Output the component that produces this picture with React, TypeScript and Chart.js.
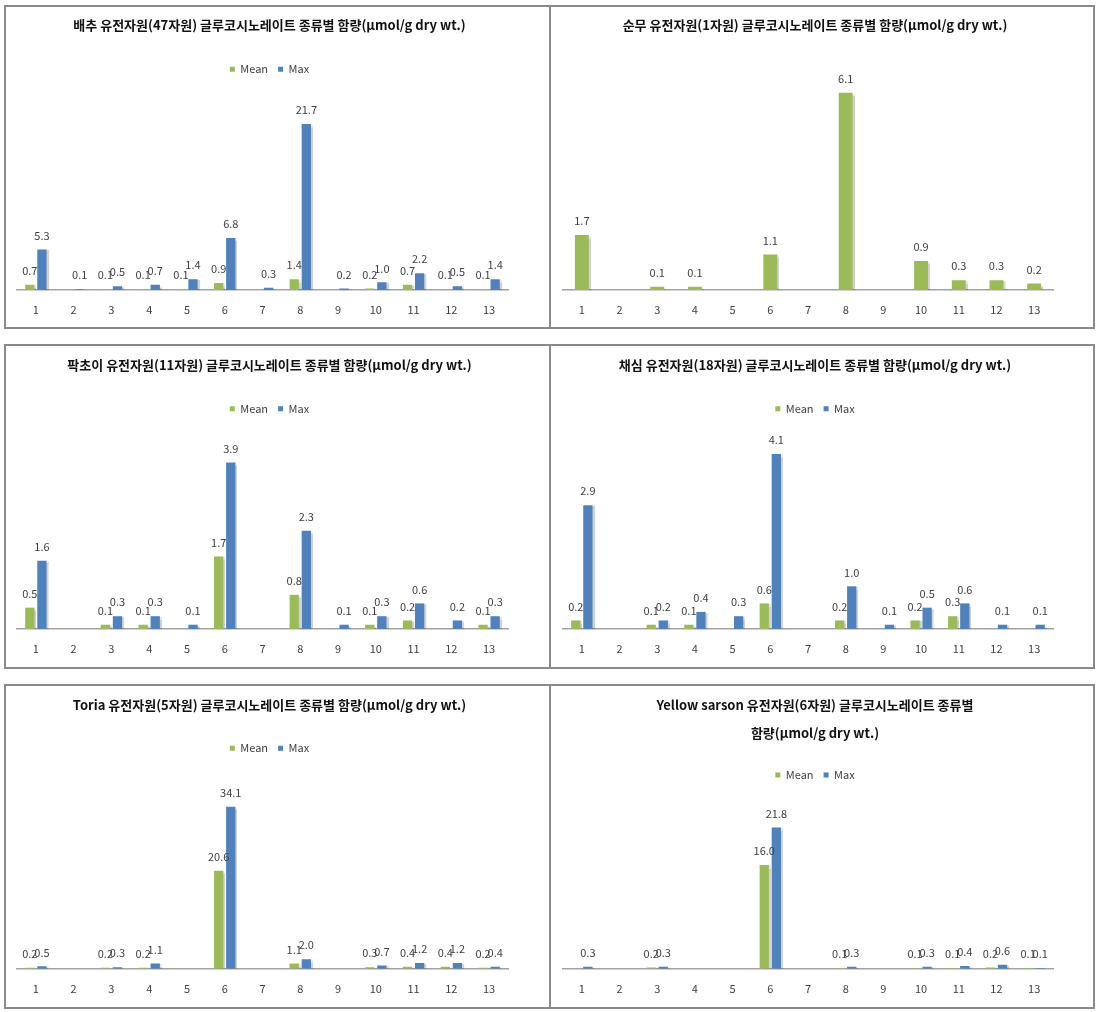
import React, { useEffect, useRef } from "react";
import { Chart, registerables } from "chart.js";

Chart.register(...registerables);

const FONT = '"Noto Sans CJK KR", "Noto Sans", sans-serif';

// ---------- data ----------
const categories = ["1", "2", "3", "4", "5", "6", "7", "8", "9", "10", "11", "12", "13"];

const cabbageMean = [0.7, null, 0.1, 0.1, 0.1, 0.9, null, 1.4, null, 0.2, 0.7, 0.1, 0.1];
const cabbageMax = [5.3, 0.1, 0.5, 0.7, 1.4, 6.8, 0.3, 21.7, 0.2, 1.0, 2.2, 0.5, 1.4];

const turnipMean = [1.7, null, 0.1, 0.1, null, 1.1, null, 6.1, null, 0.9, 0.3, 0.3, 0.2];

const pakchoiMean = [0.5, null, 0.1, 0.1, null, 1.7, null, 0.8, null, 0.1, 0.2, null, 0.1];
const pakchoiMax = [1.6, null, 0.3, 0.3, 0.1, 3.9, null, 2.3, 0.1, 0.3, 0.6, 0.2, 0.3];

const choysumMean = [0.2, null, 0.1, 0.1, null, 0.6, null, 0.2, null, 0.2, 0.3, null, null];
const choysumMax = [2.9, null, 0.2, 0.4, 0.3, 4.1, null, 1.0, 0.1, 0.5, 0.6, 0.1, 0.1];

const toriaMean = [0.2, null, 0.2, 0.2, null, 20.6, null, 1.1, null, 0.3, 0.4, 0.4, 0.2];
const toriaMax = [0.5, null, 0.3, 1.1, null, 34.1, null, 2.0, null, 0.7, 1.2, 1.2, 0.4];

const sarsonMean = [null, null, 0.2, null, null, 16.0, null, 0.1, null, 0.1, 0.1, 0.2, 0.1];
const sarsonMax = [0.3, null, 0.3, null, null, 21.8, null, 0.3, null, 0.3, 0.4, 0.6, 0.1];

const seriesNames = ["Mean", "Max"];
const axisMax = [25, 7, 4.5, 4.5, 40, 25];

const titles: (string | string[])[] = [
  "배추 유전자원(47자원) 글루코시노레이트 종류별 함량(μmol/g dry wt.)",
  "순무 유전자원(1자원) 글루코시노레이트 종류별 함량(μmol/g dry wt.)",
  "팍초이 유전자원(11자원) 글루코시노레이트 종류별 함량(μmol/g dry wt.)",
  "채심 유전자원(18자원) 글루코시노레이트 종류별 함량(μmol/g dry wt.)",
  "Toria 유전자원(5자원) 글루코시노레이트 종류별 함량(μmol/g dry wt.)",
  ["Yellow sarson 유전자원(6자원) 글루코시노레이트 종류별", "함량(μmol/g dry wt.)"],
];

const MEAN_COLOR = "#9BBB59";
const MAX_COLOR = "#4F81BD";

// ---------- layout ----------
const rowTop = [5, 344, 684];
const rowHeight = [324, 325, 325];
const BORDER = 2;
const LINE_COLOR = "#8a8a8a";

type Spec = {
  row: number;
  col: number;
  title: string | string[];
  series: { label: string; data: (number | null)[]; color: string }[];
  yMax: number;
  legend: boolean;
  titleLH: number;
  titlePadTop: number;
  titlePadBottom: number;
  legendExtra: number;
  xHeight: number;
};

const specs: Spec[] = [
  {
    row: 0, col: 0, title: titles[0], yMax: axisMax[0], legend: true,
    series: [
      { label: seriesNames[0], data: cabbageMean, color: MEAN_COLOR },
      { label: seriesNames[1], data: cabbageMax, color: MAX_COLOR },
    ],
    titleLH: 15.6, titlePadTop: 10.5, titlePadBottom: 20.7, legendExtra: 14, xHeight: 37,
  },
  {
    row: 0, col: 1, title: titles[1], yMax: axisMax[1], legend: false,
    series: [{ label: seriesNames[0], data: turnipMean, color: MEAN_COLOR }],
    titleLH: 15.6, titlePadTop: 10.5, titlePadBottom: 30.5, legendExtra: 0, xHeight: 37,
  },
  {
    row: 1, col: 0, title: titles[2], yMax: axisMax[2], legend: true,
    series: [
      { label: seriesNames[0], data: pakchoiMean, color: MEAN_COLOR },
      { label: seriesNames[1], data: pakchoiMax, color: MAX_COLOR },
    ],
    titleLH: 15.6, titlePadTop: 10.9, titlePadBottom: 20.7, legendExtra: 12.8, xHeight: 38,
  },
  {
    row: 1, col: 1, title: titles[3], yMax: axisMax[3], legend: true,
    series: [
      { label: seriesNames[0], data: choysumMean, color: MEAN_COLOR },
      { label: seriesNames[1], data: choysumMax, color: MAX_COLOR },
    ],
    titleLH: 15.6, titlePadTop: 10.9, titlePadBottom: 20.7, legendExtra: 12.8, xHeight: 38,
  },
  {
    row: 2, col: 0, title: titles[4], yMax: axisMax[4], legend: true,
    series: [
      { label: seriesNames[0], data: toriaMean, color: MEAN_COLOR },
      { label: seriesNames[1], data: toriaMax, color: MAX_COLOR },
    ],
    titleLH: 15.6, titlePadTop: 11.5, titlePadBottom: 19.7, legendExtra: 14.9, xHeight: 38.3,
  },
  {
    row: 2, col: 1, title: titles[5], yMax: axisMax[5], legend: true,
    series: [
      { label: seriesNames[0], data: sarsonMean, color: MEAN_COLOR },
      { label: seriesNames[1], data: sarsonMax, color: MAX_COLOR },
    ],
    titleLH: 27.7, titlePadTop: 5.15, titlePadBottom: 12.95, legendExtra: 16.2, xHeight: 38.3,
  },
];

const barShadow = {
  id: "barShadow",
  beforeDatasetsDraw(chart: any) {
    const ctx = chart.ctx;
    ctx.save();
    ctx.shadowColor = "rgba(0,0,0,0.18)";
    ctx.shadowBlur = 1;
    ctx.shadowOffsetX = 2;
    ctx.shadowOffsetY = 1;
  },
  afterDatasetsDraw(chart: any) {
    chart.ctx.restore();
  },
};

const valueLabels = {
  id: "valueLabels",
  afterDraw(chart: any) {
    const ctx = chart.ctx;
    ctx.save();
    ctx.font = `11px ${FONT}`;
    ctx.fillStyle = "#404040";
    ctx.textAlign = "center";
    ctx.textBaseline = "middle";
    chart.data.datasets.forEach((ds: any, i: number) => {
      const meta = chart.getDatasetMeta(i);
      meta.data.forEach((el: any, j: number) => {
        const v = ds.data[j];
        if (v === null || v === undefined) return;
        ctx.fillText(Number(v).toFixed(1), el.x, el.y - 14);
      });
    });
    ctx.restore();
  },
};

function Panel({ spec }: { spec: Spec }) {
  const ref = useRef<HTMLCanvasElement | null>(null);
  const left = spec.col === 0 ? 4 : 551;
  const width = spec.col === 0 ? 547 : 544;
  const top = rowTop[spec.row];
  const height = rowHeight[spec.row];
  const innerW = width - (spec.col === 0 ? 2 * BORDER : BORDER);
  const innerH = height - 2 * BORDER;

  useEffect(() => {
    if (!ref.current) return;
    const single = spec.series.length === 1;
    const extra = spec.legendExtra;
    const legendSpacer = {
      id: "legendSpacer",
      beforeInit(chart: any) {
        if (!chart.legend) return;
        const orig = chart.legend.fit;
        chart.legend.fit = function fit() {
          orig.bind(chart.legend)();
          this.height += extra;
        };
      },
    };
    const chart = new Chart(ref.current, {
      type: "bar",
      data: {
        labels: categories,
        datasets: spec.series.map((s) => ({
          label: s.label,
          data: s.data,
          backgroundColor: s.color,
          borderWidth: 0,
          categoryPercentage: single ? 0.45 : 0.64,
          barPercentage: single ? 0.82 : 0.77,
        })),
      },
      options: {
        responsive: false,
        animation: false,
        layout: {
          padding: {
            left: spec.col === 0 ? 11 : 12,
            right: spec.col === 0 ? 27 : 26,
            top: 0,
            bottom: 0,
          },
        },
        plugins: {
          title: {
            display: true,
            text: spec.title,
            color: "#111111",
            font: { family: FONT, size: 13, weight: "bold", lineHeight: spec.titleLH / 13 },
            padding: { top: spec.titlePadTop, bottom: spec.titlePadBottom },
          },
          legend: {
            display: spec.legend,
            position: "top",
            labels: {
              color: "#404040",
              font: { family: FONT, size: 11 },
              boxWidth: 5,
              boxHeight: 5,
              padding: 10,
            },
          },
          tooltip: { enabled: false },
        },
        scales: {
          x: {
            grid: { display: false, drawTicks: false },
            border: { display: true, color: "#a3a3a3", width: 1.5 },
            ticks: {
              color: "#404040",
              font: { family: FONT, size: 11 },
              padding: 13.4,
              maxRotation: 0,
              autoSkip: false,
            },
            afterFit: (s: any) => {
              s.height = spec.xHeight;
            },
          },
          y: {
            position: "right",
            min: 0,
            max: spec.yMax,
            grid: { display: false },
            border: { display: false },
            ticks: { display: false },
            afterFit: (s: any) => {
              s.width = 14;
            },
          },
        },
      },
      plugins: [legendSpacer, barShadow, valueLabels],
    } as any);
    return () => chart.destroy();
  }, []);

  return (
    <div
      style={{
        position: "absolute",
        left,
        top,
        width,
        height,
        boxSizing: "border-box",
        borderTop: `${BORDER}px solid ${LINE_COLOR}`,
        borderBottom: `${BORDER}px solid ${LINE_COLOR}`,
        borderRight: `${BORDER}px solid ${LINE_COLOR}`,
        borderLeft: spec.col === 0 ? `${BORDER}px solid ${LINE_COLOR}` : "none",
        background: "#ffffff",
      }}
    >
      <canvas ref={ref} width={innerW} height={innerH} style={{ display: "block" }} />
    </div>
  );
}

export default function App() {
  return (
    <div
      style={{
        position: "absolute",
        left: 0,
        top: 0,
        width: 1098,
        height: 1012,
        background: "#ffffff",
        overflow: "hidden",
      }}
    >
      {specs.map((s, i) => (
        <Panel key={i} spec={s} />
      ))}
    </div>
  );
}
